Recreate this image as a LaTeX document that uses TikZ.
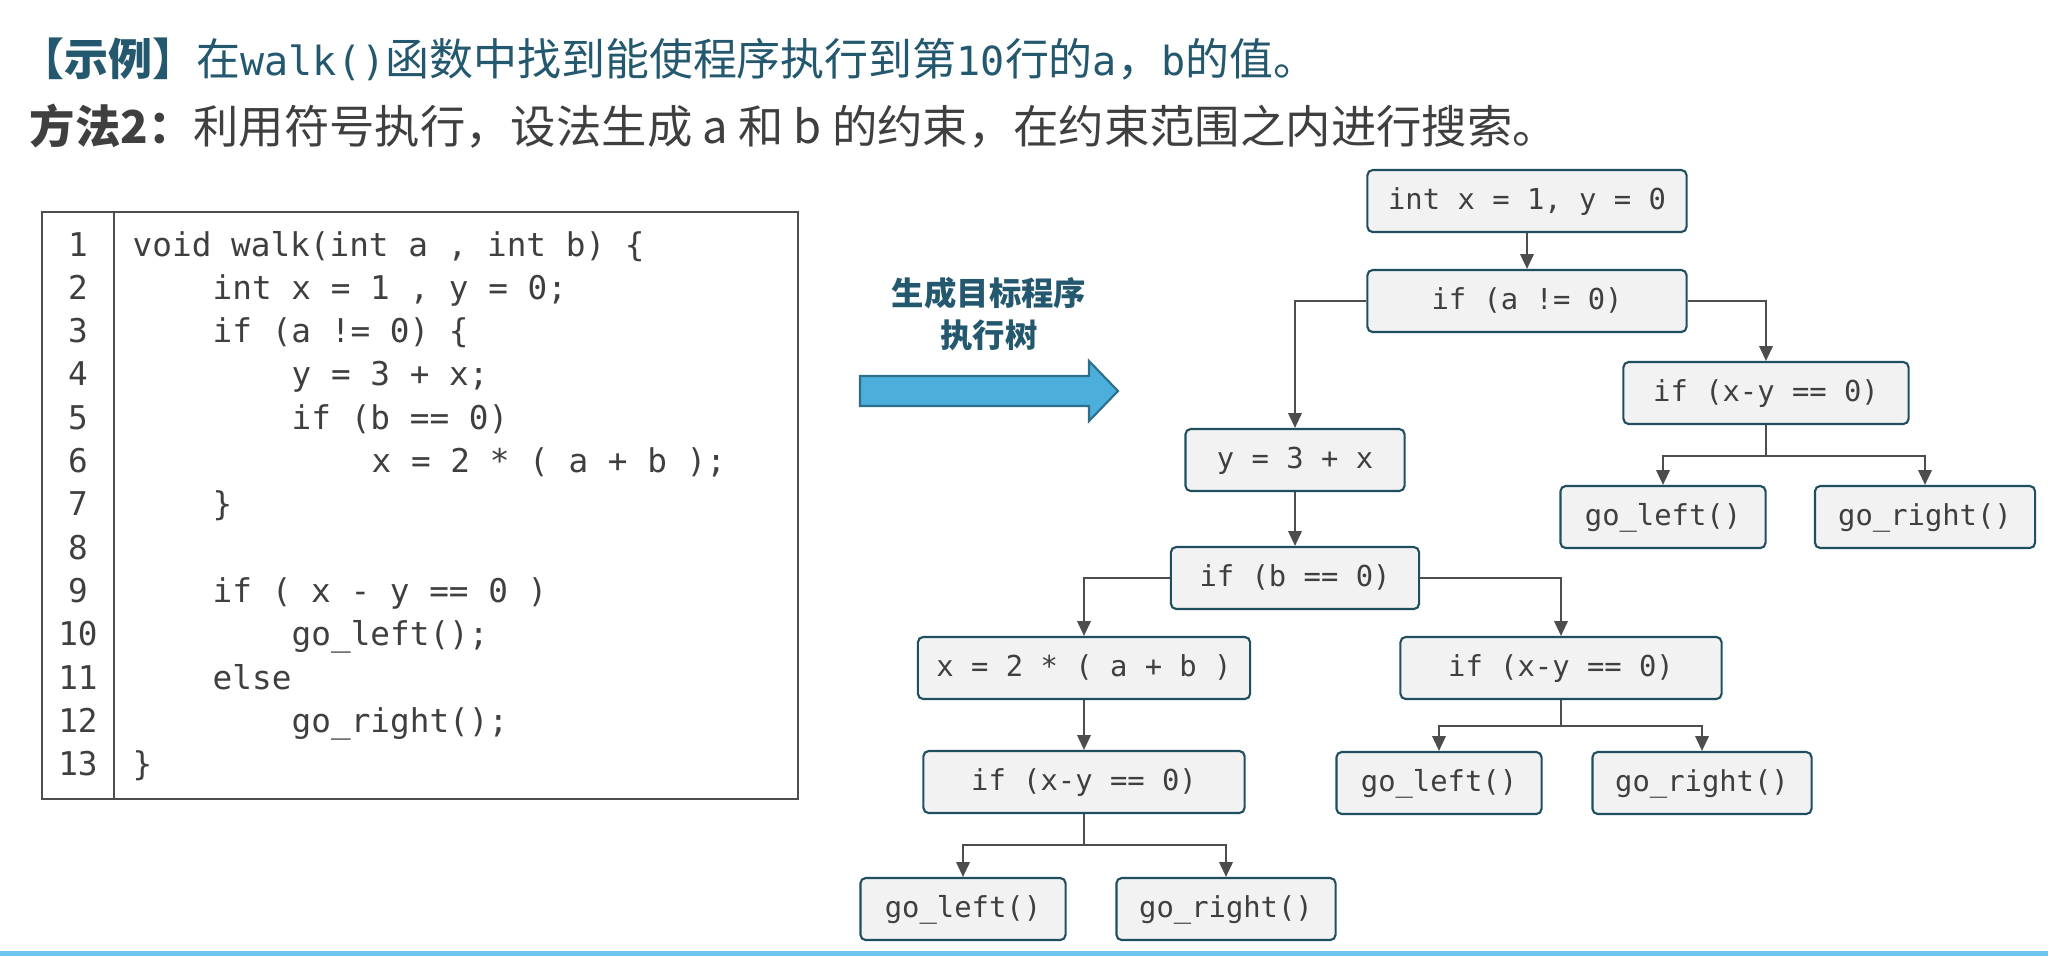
\documentclass[tikz,border=0pt]{standalone}
\usepackage{fontspec}
\setmonofont{DejaVu Sans Mono}
\newfontfamily\cjk{Noto Sans CJK SC}
\usetikzlibrary{arrows.meta,positioning,calc}
\definecolor{biaoti}{HTML}{23586E}
\definecolor{wenzi}{HTML}{3F3F3F}
\definecolor{kuangbian}{HTML}{1F4E5F}
\definecolor{kuangdi}{HTML}{F2F2F2}
\definecolor{xianse}{HTML}{4D4D4D}
\definecolor{jianlan}{HTML}{4BAEDB}
\definecolor{jianbian}{HTML}{2C6E8C}
\definecolor{dailan}{HTML}{6DC6F0}
\tikzset{
  kuang/.style={draw=kuangbian,line width=0.6pt,rounded corners=1.5pt,fill=kuangdi,
                minimum height=0.62cm,inner sep=0pt,text=wenzi,text height=0.72em,text depth=0.22em,
                font=\ttfamily\fontsize{8.2}{10}\selectfont},
  daima/.style={anchor=base west,inner sep=0pt,text=wenzi,font=\ttfamily\fontsize{9.3}{11}\selectfont},
  hao/.style={anchor=base,inner sep=0pt,text=wenzi,font=\ttfamily\fontsize{9.3}{11}\selectfont},
  biao/.style={anchor=base west,inner sep=0pt,font=\cjk\fontsize{12.5}{15}\selectfont},
  xian/.style={draw=xianse,line width=0.6pt,-{Triangle[length=4.2pt,width=3.8pt]}},
  kuangxian/.style={draw=xianse,line width=0.55pt},
}

\begin{document}
\begin{tikzpicture}[x=0.01cm,y=-0.01cm]
  \useasboundingbox (0,0) rectangle (2048,956);
  % titles
  \node[biao,text=biaoti] (t1) at (20,75) {{\bfseries 【示例】}在{\ttfamily\fontsize{11.4}{15}\selectfont walk()}函数中找到能使程序执行到第{\ttfamily\fontsize{11.4}{15}\selectfont 10}行的{\ttfamily\fontsize{11.4}{15}\selectfont a}，{\ttfamily\fontsize{11.4}{15}\selectfont b}的值。};
  \node[biao,text=wenzi,font=\cjk\fontsize{12.9}{15}\selectfont] (t2) at (29,143) {{\bfseries 方法2：}利用符号执行，设法生成 a 和 b 的约束，在约束范围之内进行搜索。};

  % code listing
  \draw[kuangxian] (42,212) rectangle (798,799);
  \draw[kuangxian] (114,212) -- (114,799);
  \foreach \i in {1,...,13} \node[hao] (n\i) at (78,{256+43.3*(\i-1)}) {\i};
  \node[daima] (c1) at (132,256) {void walk(int a , int b) \{};
  \node[daima] (c2) at (212,299.3) {int x = 1 , y = 0;};
  \node[daima] (c3) at (212,342.6) {if (a != 0) \{};
  \node[daima] (c4) at (291,385.9) {y = 3 + x;};
  \node[daima] (c5) at (291,429.2) {if (b == 0)};
  \node[daima] (c6) at (371,472.5) {x = 2 * ( a + b );};
  \node[daima] (c7) at (212,515.8) {\}};
  \node[daima] (c9) at (212,602.4) {if ( x - y == 0 )};
  \node[daima] (c10) at (291,645.7) {go\_left();};
  \node[daima] (c11) at (212,689) {else};
  \node[daima] (c12) at (291,732.3) {go\_right();};
  \node[daima] (c13) at (132,775.6) {\}};

  % big arrow
  \draw[fill=jianlan,draw=jianbian,line width=0.6pt]
    (860,376) -- (1089,376) -- (1089,361) -- (1118,391) -- (1089,421) -- (1089,406) -- (860,406) -- cycle;
  \node[align=center,text=biaoti,inner sep=0pt,font=\cjk\bfseries\fontsize{9.2}{11.9}\selectfont] (sheng) at (989,314) {生成目标程序\\执行树};

  % execution tree
  \node[kuang,minimum width=3.19cm] (k1) at (1527,201) {int x = 1, y = 0};
  \node[kuang,minimum width=3.19cm] (k2) at (1527,301) {if (a != 0)};
  \node[kuang,minimum width=2.85cm] (k3) at (1766,393) {if (x-y == 0)};
  \node[kuang,minimum width=2.05cm] (k4) at (1663,517) {go\_left()};
  \node[kuang,minimum width=2.20cm] (k5) at (1925,517) {go\_right()};
  \node[kuang,minimum width=2.19cm] (k6) at (1295,460) {y = 3 + x};
  \node[kuang,minimum width=2.48cm] (k7) at (1295,578) {if (b == 0)};
  \node[kuang,minimum width=3.32cm] (k8) at (1084,668) {x = 2 * ( a + b )};
  \node[kuang,minimum width=3.21cm] (k9) at (1561,668) {if (x-y == 0)};
  \node[kuang,minimum width=3.21cm] (k10) at (1084,782) {if (x-y == 0)};
  \node[kuang,minimum width=2.05cm] (k11) at (1439,783) {go\_left()};
  \node[kuang,minimum width=2.19cm] (k12) at (1702,783) {go\_right()};
  \node[kuang,minimum width=2.05cm] (k13) at (963,909) {go\_left()};
  \node[kuang,minimum width=2.19cm] (k14) at (1226,909) {go\_right()};

  \draw[xian] (k1) -- (k2);
  \draw[xian] (k2.west) -| (k6.north);
  \draw[xian] (k2.east) -| (k3.north);
  \draw[xian] (k3.south) -- ++(0,31) -| (k4.north);
  \draw[xian] (k3.south) -- ++(0,31) -| (k5.north);
  \draw[xian] (k6) -- (k7);
  \draw[xian] (k7.west) -| (k8.north);
  \draw[xian] (k7.east) -| (k9.north);
  \draw[xian] (k8) -- (k10);
  \draw[xian] (k9.south) -- ++(0,26) -| (k11.north);
  \draw[xian] (k9.south) -- ++(0,26) -| (k12.north);
  \draw[xian] (k10.south) -- ++(0,31) -| (k13.north);
  \draw[xian] (k10.south) -- ++(0,31) -| (k14.north);

  % bottom strip
  \fill[dailan] (0,951) rectangle (2048,956);
\end{tikzpicture}
\end{document}
